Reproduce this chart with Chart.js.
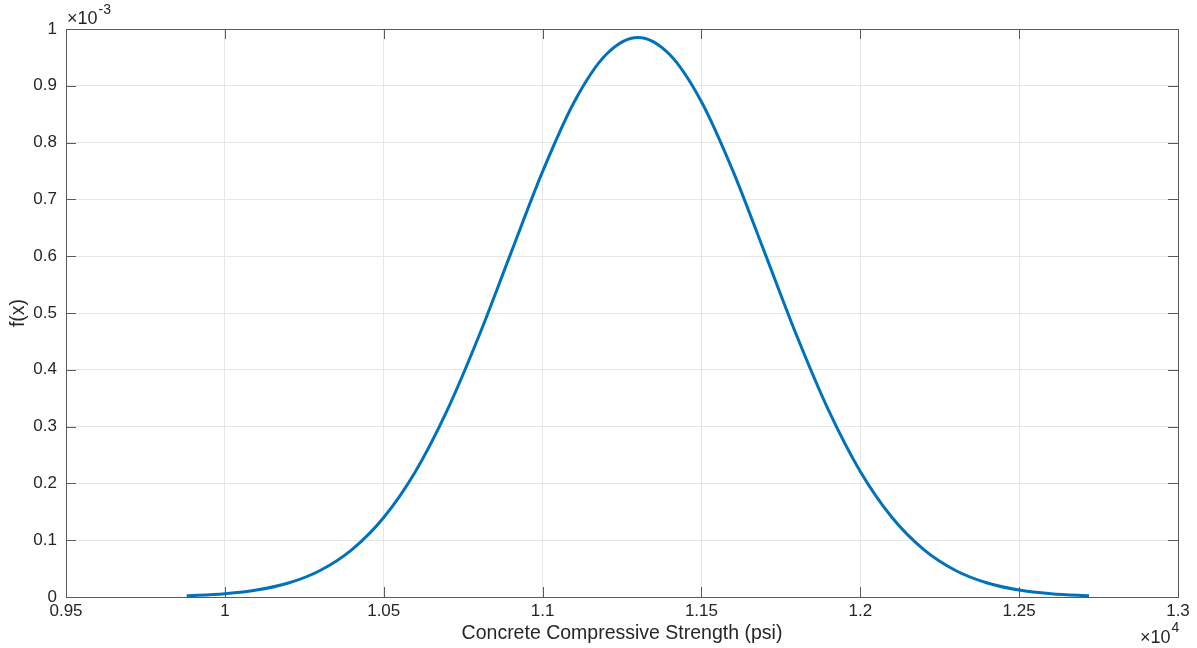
<!DOCTYPE html>
<html>
<head>
<meta charset="utf-8">
<script src="https://cdn.jsdelivr.net/npm/chart.js@4.4.1/dist/chart.umd.min.js"></script>
<style>
  html, body { margin: 0; padding: 0; background: #fff; }
  #wrap { width: 1197px; height: 648px; position: relative; }
</style>
</head>
<body>
<div id="wrap"><canvas id="c" width="1197" height="648"></canvas></div>
<script>
// Strength values (psi) and probability density f(x), in units of 1e-3
const strengthPsi = [9880, 9900, 10000, 10100, 10200, 10300, 10400, 10500, 10600, 10700,
  10800, 10900, 11000, 11100, 11200, 11300, 11400, 11500, 11600, 11700,
  11800, 11900, 12000, 12100, 12200, 12300, 12400, 12500, 12600, 12700, 12720];
const densityE3 = [0.0021, 0.0025, 0.0057, 0.0122, 0.0246, 0.0467, 0.0835, 0.140, 0.221, 0.329,
  0.460, 0.605, 0.749, 0.872, 0.955, 0.985, 0.955, 0.872, 0.749, 0.605,
  0.460, 0.329, 0.221, 0.140, 0.0835, 0.0467, 0.0246, 0.0122, 0.0057, 0.0025, 0.0021];
const xTickValues = [9500, 10000, 10500, 11000, 11500, 12000, 12500, 13000];
const yTickValues = [0, 0.1, 0.2, 0.3, 0.4, 0.5, 0.6, 0.7, 0.8, 0.9, 1];

const FONT = '"Liberation Sans", Arial, Helvetica, sans-serif';
const TEXT = '#262626';
const AXIS = '#5a5a5a';

const points = strengthPsi.map((x, i) => ({ x: x, y: densityE3[i] }));

// Box, inward ticks, axis titles and exponent labels
const decorations = {
  id: 'decorations',
  afterDatasetsDraw(chart) {
    const { ctx, chartArea: a, scales } = chart;
    const tl = 10;
    ctx.save();
    ctx.strokeStyle = AXIS;
    ctx.lineWidth = 1;
    ctx.beginPath();
    xTickValues.forEach(v => {
      const px = Math.round(scales.x.getPixelForValue(v)) + 0.5;
      ctx.moveTo(px, a.bottom); ctx.lineTo(px, a.bottom - tl);
      ctx.moveTo(px, a.top); ctx.lineTo(px, a.top + tl);
    });
    yTickValues.forEach(v => {
      const py = Math.round(scales.y.getPixelForValue(v)) + 0.5;
      ctx.moveTo(a.left, py); ctx.lineTo(a.left + tl, py);
      ctx.moveTo(a.right, py); ctx.lineTo(a.right - tl, py);
    });
    ctx.stroke();
    ctx.strokeRect(Math.round(a.left) + 0.5, Math.round(a.top) + 0.5,
      Math.round(a.right - a.left), Math.round(a.bottom - a.top));

    ctx.fillStyle = TEXT;
    ctx.font = '19.5px ' + FONT;
    ctx.textAlign = 'center';
    ctx.textBaseline = 'middle';
    ctx.fillText('Concrete Compressive Strength (psi)', (a.left + a.right) / 2, 634);
    ctx.save();
    ctx.translate(19, (a.top + a.bottom) / 2);
    ctx.rotate(-Math.PI / 2);
    ctx.fillText('f(x)', 0, 0);
    ctx.restore();

    // exponent labels
    ctx.textAlign = 'left';
    ctx.font = '18px ' + FONT;
    const base = '\u00d710';
    const bw = ctx.measureText(base).width;
    ctx.fillText(base, a.left + 1, 19);
    ctx.fillText(base, a.right - 38, 638);
    ctx.font = '14px ' + FONT;
    ctx.fillText('-3', a.left + 1 + bw + 1, 10);
    ctx.fillText('4', a.right - 38 + bw + 1, 628);
    ctx.restore();
  }
};

new Chart(document.getElementById('c'), {
  type: 'line',
  data: {
    datasets: [{
      data: points,
      borderColor: '#0072BD',
      borderWidth: 3,
      pointRadius: 0,
      fill: false,
      cubicInterpolationMode: 'monotone'
    }]
  },
  options: {
    responsive: false,
    animation: false,
    devicePixelRatio: 1,
    layout: { padding: { top: 29, right: 19, left: 0, bottom: 0 } },
    plugins: { legend: { display: false }, tooltip: { enabled: false } },
    scales: {
      x: {
        type: 'linear',
        min: 9500, max: 13000,
        afterBuildTicks(s) { s.ticks = xTickValues.map(v => ({ value: v })); },
        afterFit(s) { s.height = 51; },
        border: { display: false },
        grid: { color: '#e6e6e6', lineWidth: 1, drawTicks: false },
        ticks: {
          color: TEXT, padding: 4, maxRotation: 0, autoSkip: false,
          font: { family: FONT, size: 17 },
          callback: v => String(Math.round(v) / 10000)
        }
      },
      y: {
        min: 0, max: 1,
        afterBuildTicks(s) { s.ticks = yTickValues.map(v => ({ value: v })); },
        afterFit(s) { s.width = 66; },
        border: { display: false },
        grid: { color: '#e6e6e6', lineWidth: 1, drawTicks: false },
        ticks: {
          color: TEXT, padding: 9, autoSkip: false,
          font: { family: FONT, size: 17 },
          callback: v => String(Number(v.toFixed(1)))
        }
      }
    }
  },
  plugins: [decorations]
});
</script>
</body>
</html>
